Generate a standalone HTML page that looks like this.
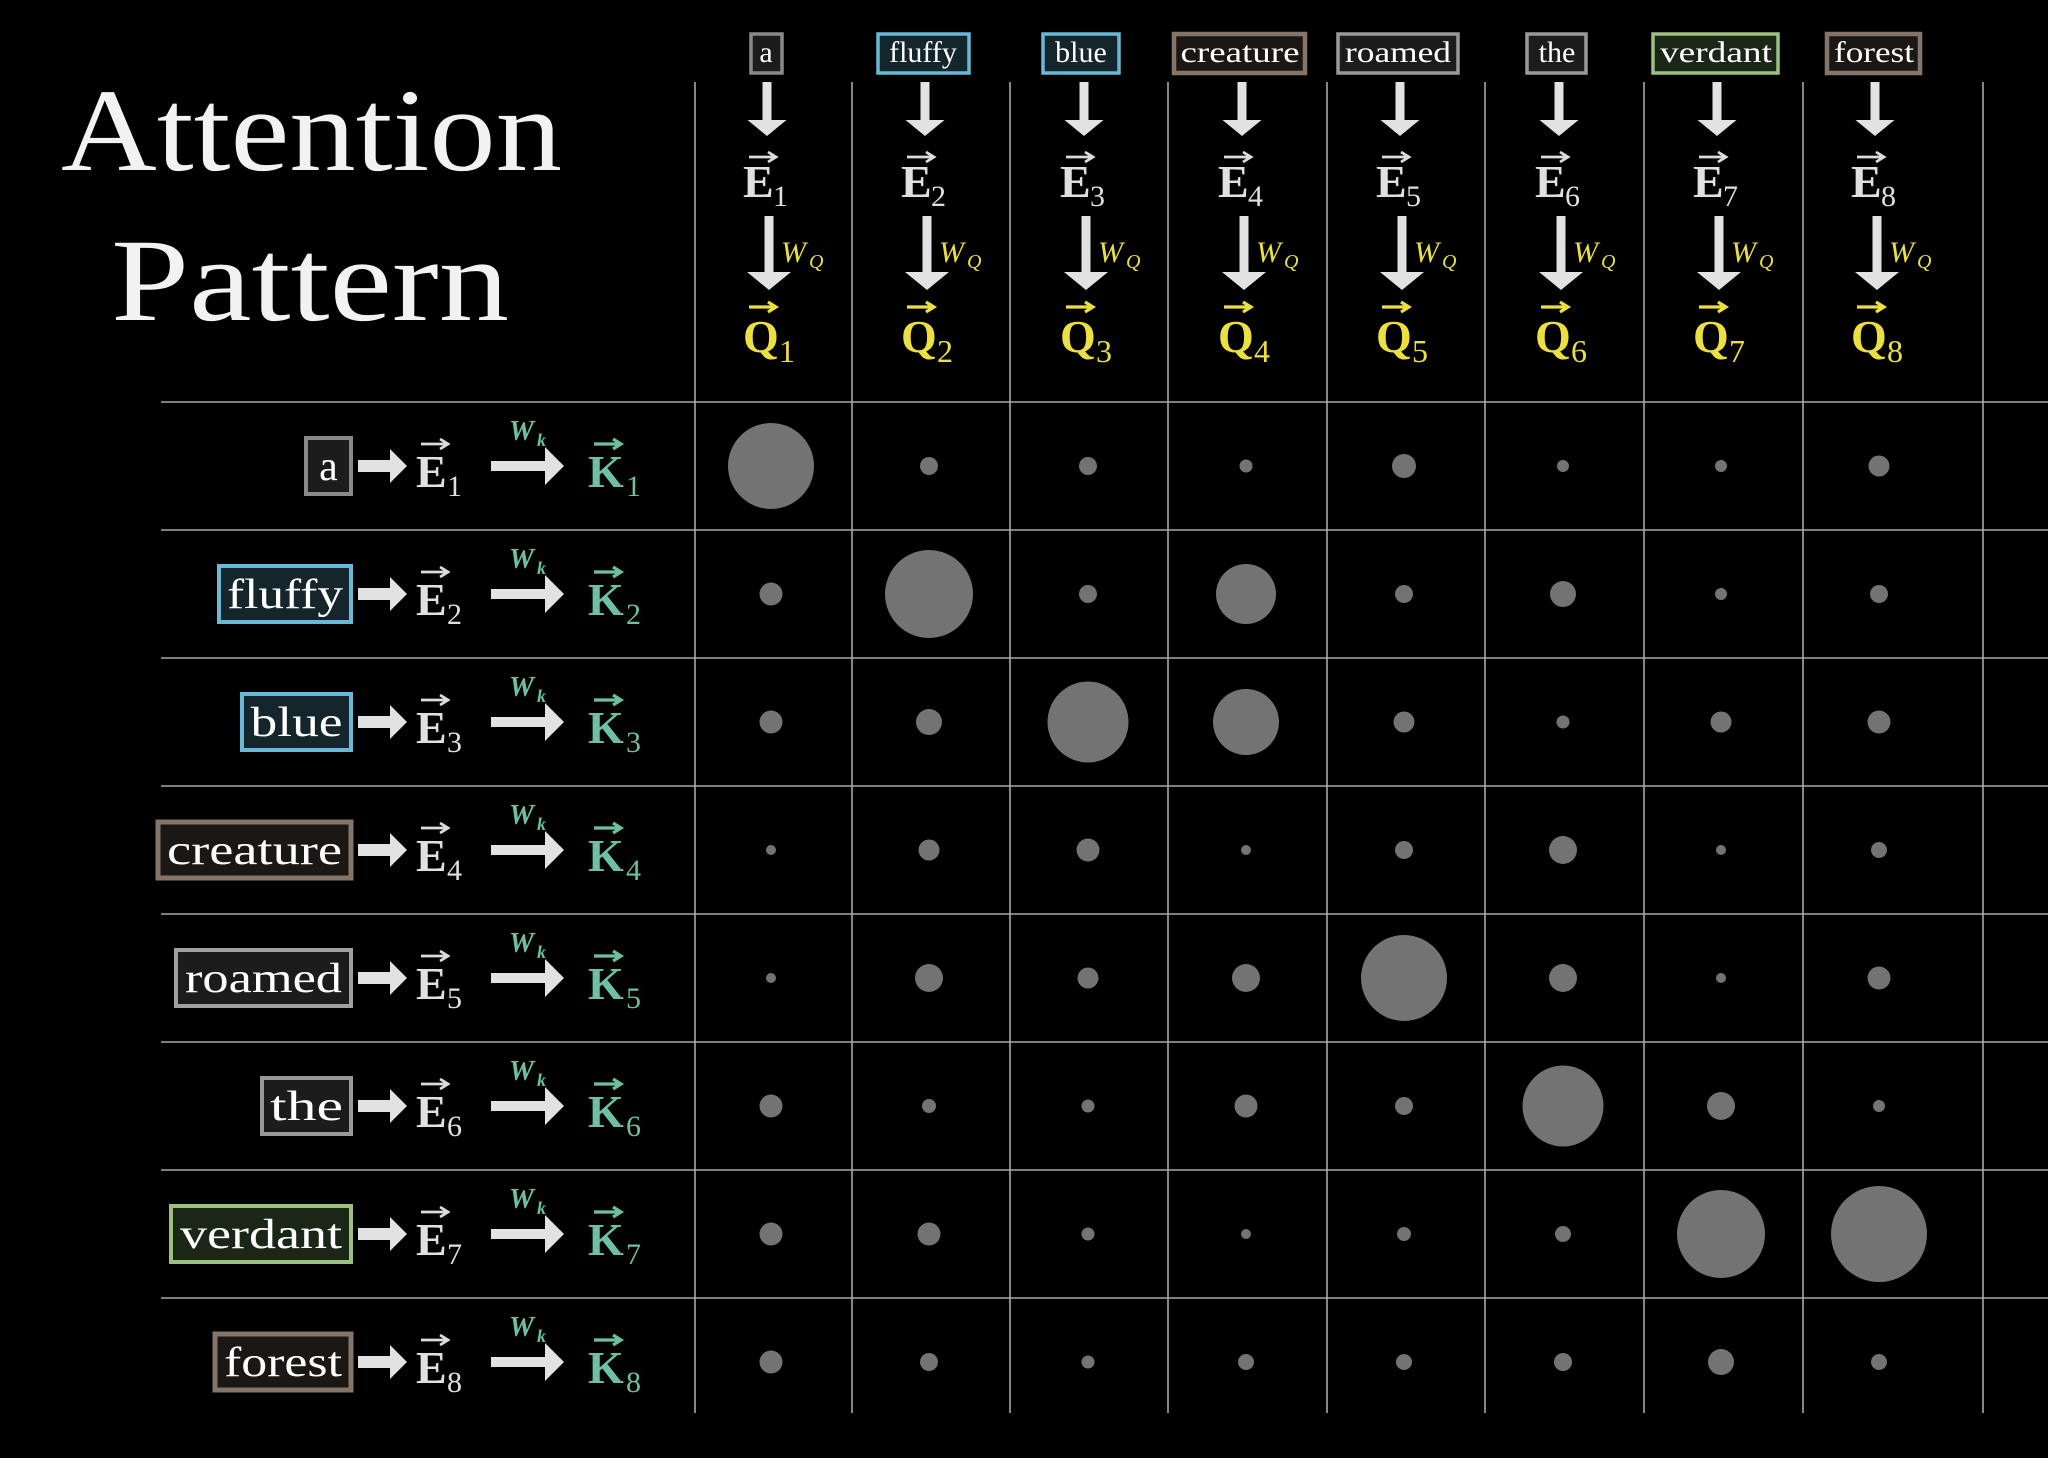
<!DOCTYPE html>
<html><head><meta charset="utf-8"><style>
html,body{margin:0;padding:0;background:#000;}
svg{display:block;}
text{font-family:"Liberation Serif",serif;}
</style></head><body>
<svg width="2048" height="1458" viewBox="0 0 2048 1458" xmlns="http://www.w3.org/2000/svg">
<rect width="2048" height="1458" fill="#000"/>
<defs>
<polygon id="ta1" points="-8.5,0 0.5,0 0.5,38 15.5,38 -4,54 -23.5,38 -8.5,38" fill="#e2e2e2"/>
<polygon id="ta2" points="-6.5,0 2.5,0 2.5,56 20,56 -2,74 -24,56 -6.5,56" fill="#e2e2e2"/>
<polygon id="la1" points="358,-6 390,-6 390,-17 407,0 390,17 390,6 358,6" fill="#e2e2e2"/>
<polygon id="la2" points="491,-5 545,-5 545,-19 564,0 545,19 545,5 491,5" fill="#e2e2e2"/>
<path id="vw" d="M0,0 H26 M19,-5 L27,0 L19,5" fill="none" stroke="#dcdcdc" stroke-width="2.8"/>
<path id="vy" d="M0,0 H26 M19,-5 L27,0 L19,5" fill="none" stroke="#ece040" stroke-width="3.2"/>
<path id="vt" d="M0,0 H26 M19,-5 L27,0 L19,5" fill="none" stroke="#6fbfa5" stroke-width="3.2"/>
</defs>

<text x="61" y="170" font-size="118" fill="#f2f2f2" textLength="501" lengthAdjust="spacingAndGlyphs">Attention</text>
<text x="111" y="320" font-size="118" fill="#f2f2f2" textLength="398" lengthAdjust="spacingAndGlyphs">Pattern</text>

<g stroke="#a8a8a8" stroke-width="1.6">
<line x1="695" y1="82" x2="695" y2="1413"/>
<line x1="852" y1="82" x2="852" y2="1413"/>
<line x1="1010" y1="82" x2="1010" y2="1413"/>
<line x1="1168" y1="82" x2="1168" y2="1413"/>
<line x1="1327" y1="82" x2="1327" y2="1413"/>
<line x1="1485" y1="82" x2="1485" y2="1413"/>
<line x1="1644" y1="82" x2="1644" y2="1413"/>
<line x1="1803" y1="82" x2="1803" y2="1413"/>
<line x1="1983" y1="82" x2="1983" y2="1413"/>
<line x1="161" y1="402" x2="2048" y2="402"/>
<line x1="161" y1="530" x2="2048" y2="530"/>
<line x1="161" y1="658" x2="2048" y2="658"/>
<line x1="161" y1="786" x2="2048" y2="786"/>
<line x1="161" y1="914" x2="2048" y2="914"/>
<line x1="161" y1="1042" x2="2048" y2="1042"/>
<line x1="161" y1="1170" x2="2048" y2="1170"/>
<line x1="161" y1="1298" x2="2048" y2="1298"/>
</g>

<!-- Top labels -->
<g stroke-width="3.5">
<rect x="751" y="34" width="31" height="39" fill="#1c1c1c" stroke="#8a8a8a"/>
<rect x="878" y="34" width="91" height="39" fill="#14252c" stroke="#6ab8d8"/>
<rect x="1043" y="34" width="76" height="39" fill="#14252c" stroke="#6ab8d8"/>
<rect x="1174" y="34" width="131" height="39" fill="#1a1715" stroke="#857468" stroke-width="4.5"/>
<rect x="1338" y="34" width="120" height="39" fill="#1c1c1c" stroke="#999"/>
<rect x="1527" y="34" width="59" height="39" fill="#1c1c1c" stroke="#999"/>
<rect x="1653" y="34" width="125" height="39" fill="#1a2616" stroke="#9cc080"/>
<rect x="1827" y="34" width="93" height="39" fill="#1a1715" stroke="#857468" stroke-width="4.5"/>
</g>
<g font-size="30" fill="#fff" text-anchor="middle">
<text x="766" y="62">a</text>
<text x="923" y="62">fluffy</text>
<text x="1081" y="62">blue</text>
<text x="1240" y="62" textLength="119" lengthAdjust="spacingAndGlyphs">creature</text>
<text x="1398" y="62" textLength="106" lengthAdjust="spacingAndGlyphs">roamed</text>
<text x="1557" y="62">the</text>
<text x="1716" y="62" textLength="112" lengthAdjust="spacingAndGlyphs">verdant</text>
<text x="1874" y="62" textLength="80" lengthAdjust="spacingAndGlyphs">forest</text>
</g>

<g>
<g transform="translate(771,0)">
<use href="#ta1" y="82"/><use href="#vw" x="-22" y="157"/>
<text x="-28" y="197" font-size="46" fill="#e0e0e0" font-weight="bold">E</text><text x="2" y="206" font-size="30" fill="#e0e0e0">1</text>
<use href="#ta2" y="216"/>
<text x="10" y="262" font-size="30" fill="#ece040" font-style="italic">W</text><text x="38" y="268" font-size="20" fill="#ece040" font-style="italic">Q</text>
<use href="#vy" x="-22" y="307"/>
<text x="-28" y="352" font-size="46" fill="#ece040" font-weight="bold">Q</text><text x="8" y="362" font-size="32" fill="#ece040">1</text>
</g>
<g transform="translate(929,0)">
<use href="#ta1" y="82"/><use href="#vw" x="-22" y="157"/>
<text x="-28" y="197" font-size="46" fill="#e0e0e0" font-weight="bold">E</text><text x="2" y="206" font-size="30" fill="#e0e0e0">2</text>
<use href="#ta2" y="216"/>
<text x="10" y="262" font-size="30" fill="#ece040" font-style="italic">W</text><text x="38" y="268" font-size="20" fill="#ece040" font-style="italic">Q</text>
<use href="#vy" x="-22" y="307"/>
<text x="-28" y="352" font-size="46" fill="#ece040" font-weight="bold">Q</text><text x="8" y="362" font-size="32" fill="#ece040">2</text>
</g>
<g transform="translate(1088,0)">
<use href="#ta1" y="82"/><use href="#vw" x="-22" y="157"/>
<text x="-28" y="197" font-size="46" fill="#e0e0e0" font-weight="bold">E</text><text x="2" y="206" font-size="30" fill="#e0e0e0">3</text>
<use href="#ta2" y="216"/>
<text x="10" y="262" font-size="30" fill="#ece040" font-style="italic">W</text><text x="38" y="268" font-size="20" fill="#ece040" font-style="italic">Q</text>
<use href="#vy" x="-22" y="307"/>
<text x="-28" y="352" font-size="46" fill="#ece040" font-weight="bold">Q</text><text x="8" y="362" font-size="32" fill="#ece040">3</text>
</g>
<g transform="translate(1246,0)">
<use href="#ta1" y="82"/><use href="#vw" x="-22" y="157"/>
<text x="-28" y="197" font-size="46" fill="#e0e0e0" font-weight="bold">E</text><text x="2" y="206" font-size="30" fill="#e0e0e0">4</text>
<use href="#ta2" y="216"/>
<text x="10" y="262" font-size="30" fill="#ece040" font-style="italic">W</text><text x="38" y="268" font-size="20" fill="#ece040" font-style="italic">Q</text>
<use href="#vy" x="-22" y="307"/>
<text x="-28" y="352" font-size="46" fill="#ece040" font-weight="bold">Q</text><text x="8" y="362" font-size="32" fill="#ece040">4</text>
</g>
<g transform="translate(1404,0)">
<use href="#ta1" y="82"/><use href="#vw" x="-22" y="157"/>
<text x="-28" y="197" font-size="46" fill="#e0e0e0" font-weight="bold">E</text><text x="2" y="206" font-size="30" fill="#e0e0e0">5</text>
<use href="#ta2" y="216"/>
<text x="10" y="262" font-size="30" fill="#ece040" font-style="italic">W</text><text x="38" y="268" font-size="20" fill="#ece040" font-style="italic">Q</text>
<use href="#vy" x="-22" y="307"/>
<text x="-28" y="352" font-size="46" fill="#ece040" font-weight="bold">Q</text><text x="8" y="362" font-size="32" fill="#ece040">5</text>
</g>
<g transform="translate(1563,0)">
<use href="#ta1" y="82"/><use href="#vw" x="-22" y="157"/>
<text x="-28" y="197" font-size="46" fill="#e0e0e0" font-weight="bold">E</text><text x="2" y="206" font-size="30" fill="#e0e0e0">6</text>
<use href="#ta2" y="216"/>
<text x="10" y="262" font-size="30" fill="#ece040" font-style="italic">W</text><text x="38" y="268" font-size="20" fill="#ece040" font-style="italic">Q</text>
<use href="#vy" x="-22" y="307"/>
<text x="-28" y="352" font-size="46" fill="#ece040" font-weight="bold">Q</text><text x="8" y="362" font-size="32" fill="#ece040">6</text>
</g>
<g transform="translate(1721,0)">
<use href="#ta1" y="82"/><use href="#vw" x="-22" y="157"/>
<text x="-28" y="197" font-size="46" fill="#e0e0e0" font-weight="bold">E</text><text x="2" y="206" font-size="30" fill="#e0e0e0">7</text>
<use href="#ta2" y="216"/>
<text x="10" y="262" font-size="30" fill="#ece040" font-style="italic">W</text><text x="38" y="268" font-size="20" fill="#ece040" font-style="italic">Q</text>
<use href="#vy" x="-22" y="307"/>
<text x="-28" y="352" font-size="46" fill="#ece040" font-weight="bold">Q</text><text x="8" y="362" font-size="32" fill="#ece040">7</text>
</g>
<g transform="translate(1879,0)">
<use href="#ta1" y="82"/><use href="#vw" x="-22" y="157"/>
<text x="-28" y="197" font-size="46" fill="#e0e0e0" font-weight="bold">E</text><text x="2" y="206" font-size="30" fill="#e0e0e0">8</text>
<use href="#ta2" y="216"/>
<text x="10" y="262" font-size="30" fill="#ece040" font-style="italic">W</text><text x="38" y="268" font-size="20" fill="#ece040" font-style="italic">Q</text>
<use href="#vy" x="-22" y="307"/>
<text x="-28" y="352" font-size="46" fill="#ece040" font-weight="bold">Q</text><text x="8" y="362" font-size="32" fill="#ece040">8</text>
</g>
</g>

<g stroke-width="4">
<rect x="306" y="438" width="45" height="56" fill="#1c1c1c" stroke="#8a8a8a"/>
<rect x="219" y="566" width="132" height="56" fill="#14252c" stroke="#6ab8d8"/>
<rect x="242" y="694" width="109" height="56" fill="#14252c" stroke="#6ab8d8"/>
<rect x="158" y="822" width="193" height="56" fill="#1a1715" stroke="#857468" stroke-width="5"/>
<rect x="176" y="950" width="175" height="56" fill="#1c1c1c" stroke="#a0a0a0"/>
<rect x="262" y="1078" width="89" height="56" fill="#1c1c1c" stroke="#999"/>
<rect x="171" y="1206" width="180" height="56" fill="#1a2616" stroke="#9cc080"/>
<rect x="215" y="1334" width="136" height="56" fill="#1a1715" stroke="#857468" stroke-width="5"/>
</g>
<g font-size="42" fill="#fff" text-anchor="middle">
<text x="328.5" y="480">a</text>
<text x="285" y="608" textLength="116" lengthAdjust="spacingAndGlyphs">fluffy</text>
<text x="296.5" y="736" textLength="92" lengthAdjust="spacingAndGlyphs">blue</text>
<text x="254.5" y="864" textLength="175" lengthAdjust="spacingAndGlyphs">creature</text>
<text x="263.5" y="992" textLength="157" lengthAdjust="spacingAndGlyphs">roamed</text>
<text x="306.5" y="1120" textLength="73" lengthAdjust="spacingAndGlyphs">the</text>
<text x="261" y="1248" textLength="162" lengthAdjust="spacingAndGlyphs">verdant</text>
<text x="283" y="1376" textLength="118" lengthAdjust="spacingAndGlyphs">forest</text>
</g>

<g transform="translate(0,466)"><use href="#la1"/><use href="#vw" x="421" y="-22"/><text x="416" y="21" font-size="46" fill="#e0e0e0" font-weight="bold">E</text><text x="447" y="30" font-size="30" fill="#e0e0e0">1</text><use href="#la2"/><text x="509" y="-26" font-size="28" fill="#6fbfa5" font-style="italic" font-weight="bold">W</text><text x="537" y="-20" font-size="18" fill="#6fbfa5" font-style="italic" font-weight="bold">k</text><use href="#vt" x="594" y="-22"/><text x="588" y="21" font-size="46" fill="#6fbfa5" font-weight="bold">K</text><text x="626" y="30" font-size="30" fill="#6fbfa5">1</text></g>
<g transform="translate(0,594)"><use href="#la1"/><use href="#vw" x="421" y="-22"/><text x="416" y="21" font-size="46" fill="#e0e0e0" font-weight="bold">E</text><text x="447" y="30" font-size="30" fill="#e0e0e0">2</text><use href="#la2"/><text x="509" y="-26" font-size="28" fill="#6fbfa5" font-style="italic" font-weight="bold">W</text><text x="537" y="-20" font-size="18" fill="#6fbfa5" font-style="italic" font-weight="bold">k</text><use href="#vt" x="594" y="-22"/><text x="588" y="21" font-size="46" fill="#6fbfa5" font-weight="bold">K</text><text x="626" y="30" font-size="30" fill="#6fbfa5">2</text></g>
<g transform="translate(0,722)"><use href="#la1"/><use href="#vw" x="421" y="-22"/><text x="416" y="21" font-size="46" fill="#e0e0e0" font-weight="bold">E</text><text x="447" y="30" font-size="30" fill="#e0e0e0">3</text><use href="#la2"/><text x="509" y="-26" font-size="28" fill="#6fbfa5" font-style="italic" font-weight="bold">W</text><text x="537" y="-20" font-size="18" fill="#6fbfa5" font-style="italic" font-weight="bold">k</text><use href="#vt" x="594" y="-22"/><text x="588" y="21" font-size="46" fill="#6fbfa5" font-weight="bold">K</text><text x="626" y="30" font-size="30" fill="#6fbfa5">3</text></g>
<g transform="translate(0,850)"><use href="#la1"/><use href="#vw" x="421" y="-22"/><text x="416" y="21" font-size="46" fill="#e0e0e0" font-weight="bold">E</text><text x="447" y="30" font-size="30" fill="#e0e0e0">4</text><use href="#la2"/><text x="509" y="-26" font-size="28" fill="#6fbfa5" font-style="italic" font-weight="bold">W</text><text x="537" y="-20" font-size="18" fill="#6fbfa5" font-style="italic" font-weight="bold">k</text><use href="#vt" x="594" y="-22"/><text x="588" y="21" font-size="46" fill="#6fbfa5" font-weight="bold">K</text><text x="626" y="30" font-size="30" fill="#6fbfa5">4</text></g>
<g transform="translate(0,978)"><use href="#la1"/><use href="#vw" x="421" y="-22"/><text x="416" y="21" font-size="46" fill="#e0e0e0" font-weight="bold">E</text><text x="447" y="30" font-size="30" fill="#e0e0e0">5</text><use href="#la2"/><text x="509" y="-26" font-size="28" fill="#6fbfa5" font-style="italic" font-weight="bold">W</text><text x="537" y="-20" font-size="18" fill="#6fbfa5" font-style="italic" font-weight="bold">k</text><use href="#vt" x="594" y="-22"/><text x="588" y="21" font-size="46" fill="#6fbfa5" font-weight="bold">K</text><text x="626" y="30" font-size="30" fill="#6fbfa5">5</text></g>
<g transform="translate(0,1106)"><use href="#la1"/><use href="#vw" x="421" y="-22"/><text x="416" y="21" font-size="46" fill="#e0e0e0" font-weight="bold">E</text><text x="447" y="30" font-size="30" fill="#e0e0e0">6</text><use href="#la2"/><text x="509" y="-26" font-size="28" fill="#6fbfa5" font-style="italic" font-weight="bold">W</text><text x="537" y="-20" font-size="18" fill="#6fbfa5" font-style="italic" font-weight="bold">k</text><use href="#vt" x="594" y="-22"/><text x="588" y="21" font-size="46" fill="#6fbfa5" font-weight="bold">K</text><text x="626" y="30" font-size="30" fill="#6fbfa5">6</text></g>
<g transform="translate(0,1234)"><use href="#la1"/><use href="#vw" x="421" y="-22"/><text x="416" y="21" font-size="46" fill="#e0e0e0" font-weight="bold">E</text><text x="447" y="30" font-size="30" fill="#e0e0e0">7</text><use href="#la2"/><text x="509" y="-26" font-size="28" fill="#6fbfa5" font-style="italic" font-weight="bold">W</text><text x="537" y="-20" font-size="18" fill="#6fbfa5" font-style="italic" font-weight="bold">k</text><use href="#vt" x="594" y="-22"/><text x="588" y="21" font-size="46" fill="#6fbfa5" font-weight="bold">K</text><text x="626" y="30" font-size="30" fill="#6fbfa5">7</text></g>
<g transform="translate(0,1362)"><use href="#la1"/><use href="#vw" x="421" y="-22"/><text x="416" y="21" font-size="46" fill="#e0e0e0" font-weight="bold">E</text><text x="447" y="30" font-size="30" fill="#e0e0e0">8</text><use href="#la2"/><text x="509" y="-26" font-size="28" fill="#6fbfa5" font-style="italic" font-weight="bold">W</text><text x="537" y="-20" font-size="18" fill="#6fbfa5" font-style="italic" font-weight="bold">k</text><use href="#vt" x="594" y="-22"/><text x="588" y="21" font-size="46" fill="#6fbfa5" font-weight="bold">K</text><text x="626" y="30" font-size="30" fill="#6fbfa5">8</text></g>

<g fill="#737373">
<circle cx="771" cy="466" r="43"/><circle cx="929" cy="466" r="9"/><circle cx="1088" cy="466" r="9"/><circle cx="1246" cy="466" r="6.5"/><circle cx="1404" cy="466" r="12"/><circle cx="1563" cy="466" r="6"/><circle cx="1721" cy="466" r="6"/><circle cx="1879" cy="466" r="10.5"/>
<circle cx="771" cy="594" r="11.5"/><circle cx="929" cy="594" r="44"/><circle cx="1088" cy="594" r="9"/><circle cx="1246" cy="594" r="30"/><circle cx="1404" cy="594" r="9"/><circle cx="1563" cy="594" r="13"/><circle cx="1721" cy="594" r="6"/><circle cx="1879" cy="594" r="9"/>
<circle cx="771" cy="722" r="11.5"/><circle cx="929" cy="722" r="13"/><circle cx="1088" cy="722" r="40.5"/><circle cx="1246" cy="722" r="33"/><circle cx="1404" cy="722" r="10.5"/><circle cx="1563" cy="722" r="6.5"/><circle cx="1721" cy="722" r="10.5"/><circle cx="1879" cy="722" r="11.5"/>
<circle cx="771" cy="850" r="5"/><circle cx="929" cy="850" r="10.5"/><circle cx="1088" cy="850" r="11.5"/><circle cx="1246" cy="850" r="5"/><circle cx="1404" cy="850" r="9"/><circle cx="1563" cy="850" r="14"/><circle cx="1721" cy="850" r="5"/><circle cx="1879" cy="850" r="8"/>
<circle cx="771" cy="978" r="5"/><circle cx="929" cy="978" r="14"/><circle cx="1088" cy="978" r="10.5"/><circle cx="1246" cy="978" r="14"/><circle cx="1404" cy="978" r="43"/><circle cx="1563" cy="978" r="14"/><circle cx="1721" cy="978" r="5"/><circle cx="1879" cy="978" r="11.5"/>
<circle cx="771" cy="1106" r="11.5"/><circle cx="929" cy="1106" r="7"/><circle cx="1088" cy="1106" r="6.5"/><circle cx="1246" cy="1106" r="11.5"/><circle cx="1404" cy="1106" r="9"/><circle cx="1563" cy="1106" r="40.5"/><circle cx="1721" cy="1106" r="14"/><circle cx="1879" cy="1106" r="6"/>
<circle cx="771" cy="1234" r="11.5"/><circle cx="929" cy="1234" r="11.5"/><circle cx="1088" cy="1234" r="6.5"/><circle cx="1246" cy="1234" r="5"/><circle cx="1404" cy="1234" r="7"/><circle cx="1563" cy="1234" r="8"/><circle cx="1721" cy="1234" r="44"/><circle cx="1879" cy="1234" r="48"/>
<circle cx="771" cy="1362" r="11.5"/><circle cx="929" cy="1362" r="9"/><circle cx="1088" cy="1362" r="6.5"/><circle cx="1246" cy="1362" r="8"/><circle cx="1404" cy="1362" r="8"/><circle cx="1563" cy="1362" r="9"/><circle cx="1721" cy="1362" r="13"/><circle cx="1879" cy="1362" r="8"/>
</g>
</svg>
</body></html>
